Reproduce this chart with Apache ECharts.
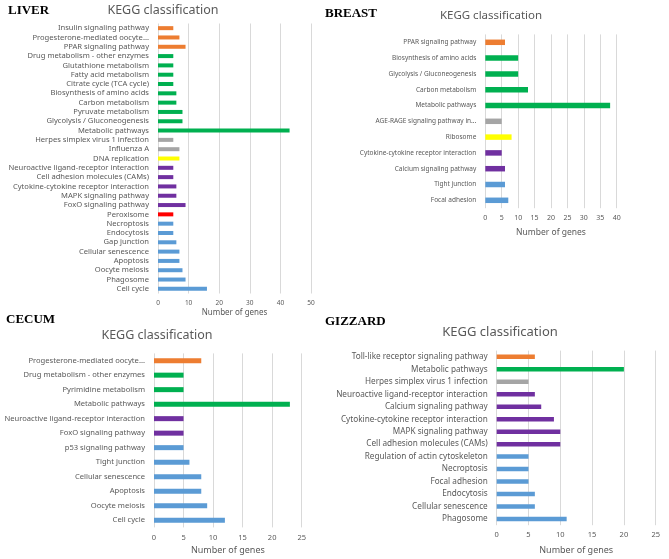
<!DOCTYPE html>
<html>
<head>
<meta charset="utf-8">
<script src="https://cdn.jsdelivr.net/npm/echarts@6/dist/echarts.min.js"></script>
<style>
html,body{margin:0;padding:0;background:#fff;}
#chart{width:669px;height:559px;}
</style>
</head>
<body>
<div id="chart"></div>
<script>
// ---------- DATA ----------
// class codes: OS organismal systems, M metabolism, HD human diseases,
// GIP genetic information processing, EIP environmental information processing,
// PX peroxisome, CP cellular processes
const liverCategories = [
  'Insulin signaling pathway','Progesterone-mediated oocyte...','PPAR signaling pathway',
  'Drug metabolism - other enzymes','Glutathione metabolism','Fatty acid metabolism',
  'Citrate cycle (TCA cycle)','Biosynthesis of amino acids','Carbon metabolism',
  'Pyruvate metabolism','Glycolysis / Gluconeogenesis','Metabolic pathways',
  'Herpes simplex virus 1 infection','Influenza A','DNA replication',
  'Neuroactive ligand-receptor interaction','Cell adhesion molecules (CAMs)',
  'Cytokine-cytokine receptor interaction','MAPK signaling pathway','FoxO signaling pathway',
  'Peroxisome','Necroptosis','Endocytosis','Gap junction','Cellular senescence',
  'Apoptosis','Oocyte meiosis','Phagosome','Cell cycle'
];
const liverValues = [5,7,9, 5,5,5,5,6,6,8,8,43, 5,7,7, 5,5,6,6,9, 5, 5,5,6,7,7,8,9,16];
const liverClasses = ['OS','OS','OS','M','M','M','M','M','M','M','M','M','HD','HD','GIP',
  'EIP','EIP','EIP','EIP','EIP','PX','CP','CP','CP','CP','CP','CP','CP','CP'];
const liverTicks = [0,10,20,30,40,50];

const breastCategories = [
  'PPAR signaling pathway','Biosynthesis of amino acids','Glycolysis / Gluconeogenesis',
  'Carbon metabolism','Metabolic pathways','AGE-RAGE signaling pathway in...','Ribosome',
  'Cytokine-cytokine receptor interaction','Calcium signaling pathway','Tight junction','Focal adhesion'
];
const breastValues = [6,10,10,13,38,5,8,5,6,6,7];
const breastClasses = ['OS','M','M','M','M','HD','GIP','EIP','EIP','CP','CP'];
const breastTicks = [0,5,10,15,20,25,30,35,40];

const cecumCategories = [
  'Progesterone-mediated oocyte...','Drug metabolism - other enzymes','Pyrimidine metabolism',
  'Metabolic pathways','Neuroactive ligand-receptor interaction','FoxO signaling pathway',
  'p53 signaling pathway','Tight junction','Cellular senescence','Apoptosis','Oocyte meiosis','Cell cycle'
];
const cecumValues = [8,5,5,23,5,5,5,6,8,8,9,12];
const cecumClasses = ['OS','M','M','M','EIP','EIP','CP','CP','CP','CP','CP','CP'];
const cecumTicks = [0,5,10,15,20,25];

const gizzardCategories = [
  'Toll-like receptor signaling pathway','Metabolic pathways','Herpes simplex virus 1 infection',
  'Neuroactive ligand-receptor interaction','Calcium signaling pathway',
  'Cytokine-cytokine receptor interaction','MAPK signaling pathway','Cell adhesion molecules (CAMs)',
  'Regulation of actin cytoskeleton','Necroptosis','Focal adhesion','Endocytosis',
  'Cellular senescence','Phagosome'
];
const gizzardValues = [6,20,5,6,7,9,10,10,5,5,5,6,6,11];
const gizzardClasses = ['OS','M','HD','EIP','EIP','EIP','EIP','EIP','CP','CP','CP','CP','CP','CP'];
const gizzardTicks = [0,5,10,15,20,25];

const panelNames = ['LIVER','BREAST','CECUM','GIZZARD'];
const chartTitle = 'KEGG classification';
const axisTitle = 'Number of genes';

// ---------- STYLE ----------
const classColors = {OS:'#ED7D31', M:'#00B050', HD:'#A5A5A5', GIP:'#FFFF00', EIP:'#7030A0', PX:'#FF0000', CP:'#5B9BD5'};
const FONT = '"Noto Sans", sans-serif';
const TXT = '#595959';

const panels = [
  {cats:liverCategories, vals:liverValues, cls:liverClasses, ticks:liverTicks,
   grid:{left:158, top:23.5, width:153, height:270}, barW:4, catFont:7.6, tickFont:6.5, nameFont:8, nameGap:15,
   title:{x:163,y:10,size:12.5}, label:{x:8,y:11}},
  {cats:breastCategories, vals:breastValues, cls:breastClasses, ticks:breastTicks,
   grid:{left:485.3, top:34.4, width:131.4, height:173.8}, barW:5.5, catFont:6.5, tickFont:7, nameFont:8.5, nameGap:20,
   title:{x:491,y:16,size:11.5}, label:{x:325,y:14}},
  {cats:cecumCategories, vals:cecumValues, cls:cecumClasses, ticks:cecumTicks,
   grid:{left:154, top:353.4, width:147.7, height:174}, barW:5, catFont:7.6, tickFont:7.5, nameFont:9, nameGap:19,
   title:{x:157,y:335,size:12.5}, label:{x:6,y:320}},
  {cats:gizzardCategories, vals:gizzardValues, cls:gizzardClasses, ticks:gizzardTicks,
   grid:{left:496.7, top:350.6, width:159, height:174.6}, barW:4.5, catFont:8.2, tickFont:7.5, nameFont:9, nameGap:21,
   title:{x:500,y:332,size:13}, label:{x:325,y:321.7}}
];

const grid=[], xAxis=[], yAxis=[], series=[], graphic=[];
panels.forEach((p,i)=>{
  grid.push(Object.assign({containLabel:false}, p.grid));
  const mx = p.ticks[p.ticks.length-1];
  const step = p.ticks[1]-p.ticks[0];
  xAxis.push({
    type:'value', gridIndex:i, min:p.ticks[0], max:mx, interval:step,
    axisLine:{show:false}, axisTick:{show:false},
    splitLine:{show:true, lineStyle:{color:'#D9D9D9', width:1}},
    axisLabel:{fontFamily:FONT, fontSize:p.tickFont, color:TXT, margin:6},
    name:axisTitle, nameLocation:'middle', nameGap:p.nameGap,
    nameTextStyle:{fontFamily:FONT, fontSize:p.nameFont, color:TXT}
  });
  yAxis.push({
    type:'category', gridIndex:i, data:p.cats, inverse:true,
    axisLine:{show:false}, axisTick:{show:false},
    axisLabel:{fontFamily:FONT, fontSize:p.catFont, color:TXT, margin:9, interval:0}
  });
  series.push({
    type:'bar', xAxisIndex:i, yAxisIndex:i, barWidth:p.barW, silent:true,
    data:p.vals.map((v,k)=>({value:v, itemStyle:{color:classColors[p.cls[k]]}}))
  });
  graphic.push({type:'text', x:p.title.x, y:p.title.y,
    style:{text:chartTitle, fill:TXT, font:p.title.size+'px '+FONT, textAlign:'center', textVerticalAlign:'middle'}});
  graphic.push({type:'text', x:p.label.x, y:p.label.y,
    style:{text:panelNames[i], fill:'#000', font:'bold 13px "Liberation Serif", "DejaVu Serif", serif', textAlign:'left', textVerticalAlign:'middle'}});
});

const chart = echarts.init(document.getElementById('chart'), null, {renderer:'canvas'});
chart.setOption({animation:false, backgroundColor:'#fff', grid, xAxis, yAxis, series, graphic});
</script>
</body>
</html>
